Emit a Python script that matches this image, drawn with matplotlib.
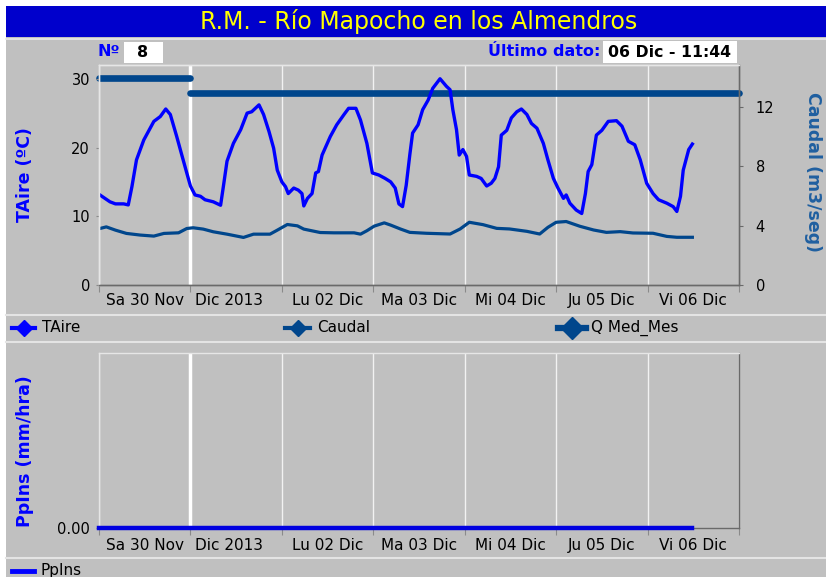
import matplotlib
matplotlib.use('Agg')
import matplotlib.pyplot as plt
from matplotlib.patches import Rectangle
from matplotlib.lines import Line2D

# time axis: days since Sa 30 Nov 2013 00:00
taire_t = [0.01, 0.12, 0.18, 0.27, 0.32, 0.36, 0.41, 0.49, 0.60, 0.67, 0.73, 0.78, 0.85, 0.91,
           0.96, 1.00, 1.05, 1.11, 1.16, 1.25, 1.33, 1.36, 1.40, 1.47, 1.55, 1.62, 1.67, 1.75,
           1.80, 1.86, 1.91, 1.95, 2.00, 2.04, 2.07, 2.13, 2.18, 2.22, 2.24, 2.28, 2.33, 2.37,
           2.40, 2.44, 2.53, 2.60, 2.68, 2.73, 2.81, 2.86, 2.93, 2.99, 3.06, 3.13, 3.19, 3.24,
           3.28, 3.32, 3.36, 3.40, 3.43, 3.49, 3.54, 3.60, 3.65, 3.73, 3.80, 3.84, 3.87, 3.91,
           3.94, 3.98, 4.02, 4.05, 4.13, 4.18, 4.24, 4.29, 4.33, 4.37, 4.40, 4.46, 4.51, 4.57,
           4.62, 4.68, 4.73, 4.79, 4.86, 4.91, 4.97, 5.02, 5.08, 5.11, 5.15, 5.22, 5.28, 5.32,
           5.35, 5.39, 5.44, 5.50, 5.57, 5.66, 5.72, 5.79, 5.86, 5.92, 5.99, 6.06, 6.12, 6.21,
           6.28, 6.32, 6.36, 6.39, 6.45, 6.49]
taire = [13.1, 12.1, 11.8, 11.8, 11.65, 14.3, 18.2, 21.1, 23.8, 24.5, 25.6, 24.8, 21.6, 18.7,
         16.3, 14.4, 13.1, 12.9, 12.4, 12.1, 11.6, 14.3, 18.0, 20.6, 22.6, 25.0, 25.2, 26.2,
         24.8, 22.3, 19.9, 16.7, 15.0, 14.3, 13.3, 14.1, 13.8, 13.3, 11.5, 12.6, 13.3, 16.3,
         16.5, 18.9, 21.6, 23.3, 24.8, 25.7, 25.7, 24.0, 20.6, 16.3, 16.0, 15.5, 15.0, 14.1,
         11.8, 11.4, 14.5, 19.0, 22.1, 23.3, 25.5, 26.9, 28.6, 30.0, 28.9, 28.4, 25.5, 22.6,
         18.9, 19.7, 18.7, 16.0, 15.8, 15.5, 14.4, 14.8, 15.5, 17.2, 21.8, 22.5, 24.3, 25.2,
         25.6, 24.8, 23.5, 22.8, 20.6, 18.2, 15.5, 14.1, 12.6, 13.1, 11.9, 10.9, 10.4, 13.3,
         16.5, 17.5, 21.8, 22.5, 23.8, 23.9, 23.1, 20.9, 20.4, 18.2, 14.8, 13.3, 12.4, 11.9,
         11.4, 10.7, 12.9, 16.7, 19.7, 20.5]

caudal_t = [0.01, 0.08, 0.18, 0.30, 0.45, 0.60, 0.71, 0.87, 0.96, 1.03, 1.14, 1.25, 1.40, 1.58,
            1.69, 1.87, 1.95, 2.06, 2.17, 2.24, 2.42, 2.57, 2.79, 2.86, 2.93, 3.01, 3.12, 3.19,
            3.30, 3.40, 3.58, 3.84, 3.95, 4.05, 4.20, 4.35, 4.49, 4.68, 4.82, 4.91, 5.00, 5.11,
            5.26, 5.41, 5.55, 5.70, 5.84, 6.06, 6.21, 6.32, 6.49]
caudal = [3.80, 3.91, 3.69, 3.47, 3.36, 3.29, 3.47, 3.51, 3.80, 3.85, 3.76, 3.58, 3.42, 3.20,
          3.42, 3.42, 3.69, 4.07, 3.98, 3.76, 3.53, 3.51, 3.51, 3.42, 3.65, 3.96, 4.18, 4.03,
          3.76, 3.54, 3.48, 3.43, 3.77, 4.22, 4.06, 3.81, 3.77, 3.61, 3.43, 3.88, 4.22, 4.27,
          3.95, 3.70, 3.54, 3.59, 3.50, 3.48, 3.27, 3.21, 3.21]

# monthly mean flow (Nov, Dic)
qmed_start = [0, 1]
qmed_end = [1, 7]
qmed = [13.9, 12.9]

ppins_t = [0.0, 6.49]
ppins = [0.0, 0.0]

day_ticks = [0, 1, 2, 3, 4, 5, 6, 7]
label_pos = [0.5, 1.42, 2.5, 3.5, 4.5, 5.5, 6.5]
day_labels = ['Sa 30 Nov', 'Dic 2013', 'Lu 02 Dic', 'Ma 03 Dic', 'Mi 04 Dic', 'Ju 05 Dic', 'Vi 06 Dic']

W, H = 826, 577
BG = '#C0C0C0'
BLUE = '#0000FF'
DARK = '#00468C'

fig = plt.figure(figsize=(8.26, 5.77), dpi=100, facecolor='white')


def box(x0, y0, x1, y1, color, z=-5):
    fig.add_artist(Rectangle((x0 / W, 1 - y1 / H), (x1 - x0) / W, (y1 - y0) / H,
                             transform=fig.transFigure, facecolor=color, edgecolor='none', zorder=z))


def hline(y, x0=6, x1=826, color='#E4E4E4', lw=1.5):
    fig.add_artist(Line2D([x0 / W, x1 / W], [1 - y / H, 1 - y / H], transform=fig.transFigure,
                          color=color, lw=lw, zorder=-4))


def ftext(x, y, s, **kw):
    fig.text(x / W, 1 - y / H, s, **kw)


box(6, 37, 826, 577, BG, z=-10)
box(6, 6, 826, 37, '#0000CC', z=-9)
hline(38.5, color='#E8E8E8', lw=1.2)
ftext(419, 21.5, 'R.M. - Río Mapocho en los Almendros', color='#FFFF00', fontsize=17,
      ha='center', va='center')

ftext(109, 52, 'Nº', color=BLUE, fontsize=11.5, fontweight='bold', ha='center', va='center')
box(124, 42, 163, 63, 'white', z=-4)
ftext(143, 52.5, '8', color='black', fontsize=11.5, fontweight='bold', ha='center', va='center')
ftext(600, 52, 'Último dato:', color=BLUE, fontsize=11.5, fontweight='bold', ha='right', va='center')
box(603, 41, 737, 63, 'white', z=-4)
ftext(670, 52.5, '06 Dic - 11:44', color='black', fontsize=11.3, fontweight='bold',
      ha='center', va='center')


def style_axes(ax):
    for side in ['left', 'top']:
        ax.spines[side].set_color('#E6E6E6')
    for side in ['bottom', 'right']:
        ax.spines[side].set_color('#6A6A6A')
    for sp in ax.spines.values():
        sp.set_linewidth(1)


# ---- top panel
ax1 = fig.add_axes([99 / W, 1 - 285 / H, 640 / W, 220 / H])
ax1r = ax1.twinx()
ax1.set_zorder(ax1r.get_zorder() + 1)
ax1.patch.set_visible(False)
ax1r.patch.set_visible(True)
ax1r.patch.set_facecolor(BG)

ax1.set_xlim(0, 7)
ax1.set_ylim(0, 32)
ax1r.set_ylim(0, 14.8)

ax1.set_xticks(day_ticks)
ax1.set_xticklabels([])
ax1.set_xticks(label_pos, minor=True)
ax1.set_xticklabels(day_labels, minor=True, fontsize=11)
ax1.tick_params(axis='x', which='minor', length=0, pad=6)
ax1.tick_params(axis='x', which='major', length=5, color='#8A8A8A')
ax1.set_yticks([0, 10, 20, 30])
ax1.tick_params(axis='y', length=2, color='#8A8A8A', labelsize=10.5, pad=4.5)
ax1r.set_yticks([0, 4, 8, 12])
ax1r.tick_params(axis='y', length=3, color='#6A6A6A', labelsize=10.5, pad=9)

ax1r.xaxis.set_visible(True)
ax1r.tick_params(axis='x', which='both', bottom=False, top=False, labelbottom=False, labeltop=False)
ax1r.grid(axis='x', which='major', color='#F2F2F2', lw=1)
g = ax1r.xaxis.get_major_ticks()[1].gridline
g.set_linewidth(2.5)
g.set_color('white')

style_axes(ax1)
style_axes(ax1r)

ax1r.plot(caudal_t, caudal, color=DARK, lw=2.3)
for s, e, v in zip(qmed_start, qmed_end, qmed):
    ax1r.plot([s, e], [v, v], color=DARK, lw=4.8, solid_capstyle='round', clip_on=False)
ax1.plot(taire_t, taire, color=BLUE, lw=2.4)

ftext(25, 175, 'TAire (ºC)', color=BLUE, fontsize=12.5, fontweight='bold', rotation=90,
      ha='center', va='center')
ftext(813, 172, 'Caudal (m3/seg)', color='#1F5FA0', fontsize=12.5, fontweight='bold',
      rotation=270, ha='center', va='center')

# legend row
hline(315)
hline(341.5)
legend_items = [(12, 35, 42, 'TAire', BLUE, 8, 3),
                (285, 310, 317, 'Caudal', DARK, 8, 3),
                (558, 586, 591, 'Q Med_Mes', DARK, 11, 4.5)]
for x0, x1, xt, name, col, ms, lw in legend_items:
    fig.add_artist(Line2D([x0 / W, x1 / W], [1 - 328 / H] * 2, transform=fig.transFigure,
                          color=col, lw=lw, marker='D', markevery=[0], markersize=0))
    fig.add_artist(Line2D([(x0 + x1) / 2 / W], [1 - 328 / H], transform=fig.transFigure,
                          color=col, marker='D', markersize=ms, lw=0))
    ftext(xt, 328, name, fontsize=11, ha='left', va='center')

# ---- bottom panel
ax2 = fig.add_axes([99 / W, 1 - 528 / H, 640 / W, 175 / H])
ax2.set_facecolor(BG)
ax2.set_xlim(0, 7)
ax2.set_ylim(0, 1)
ax2.set_xticks(day_ticks)
ax2.set_xticklabels([])
ax2.set_xticks(label_pos, minor=True)
ax2.set_xticklabels(day_labels, minor=True, fontsize=11)
ax2.tick_params(axis='x', which='minor', length=0, pad=7)
ax2.tick_params(axis='x', which='major', length=5, color='#8A8A8A')
ax2.set_yticks([0])
ax2.set_yticklabels(['0.00'])
ax2.tick_params(axis='y', length=2, color='#8A8A8A', labelsize=10.5, pad=4.5)
ax2.grid(axis='x', which='major', color='#F2F2F2', lw=1)
g2 = ax2.xaxis.get_major_ticks()[1].gridline
g2.set_linewidth(2.5)
g2.set_color('white')
style_axes(ax2)
ax2.plot(ppins_t, ppins, color='#0000E0', lw=3.2, clip_on=False, zorder=5)

ftext(25, 451, 'PpIns (mm/hra)', color=BLUE, fontsize=12.5, fontweight='bold', rotation=90,
      ha='center', va='center')

hline(558)
fig.add_artist(Line2D([12 / W, 34 / W], [1 - 571 / H] * 2, transform=fig.transFigure,
                      color=BLUE, lw=3.5))
ftext(41, 571, 'PpIns', fontsize=11, ha='left', va='center')

fig.savefig('out.png', dpi=100, facecolor=fig.get_facecolor())
